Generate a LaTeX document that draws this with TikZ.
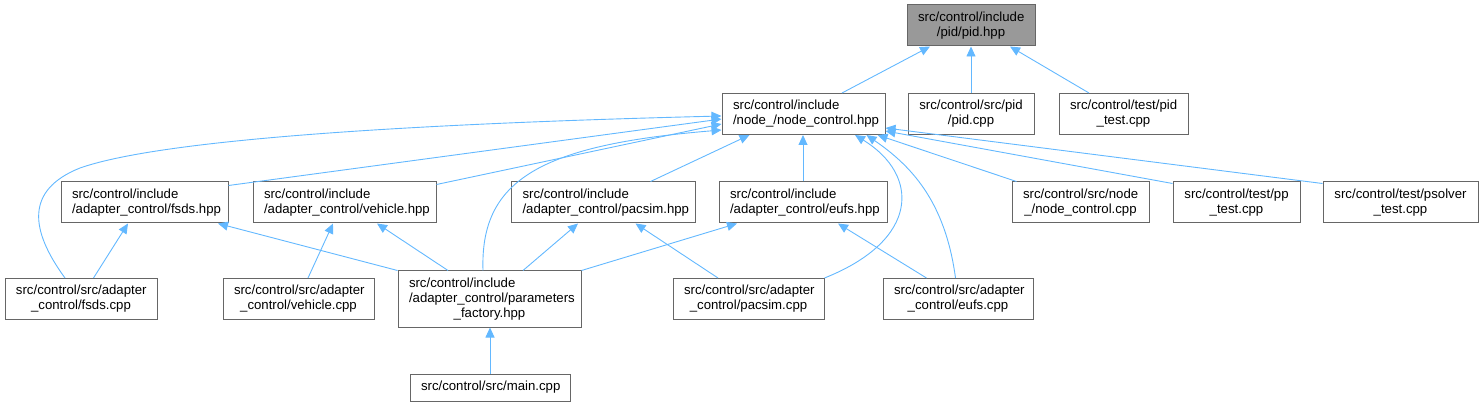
\documentclass[tikz,border=0pt]{standalone}
\usepackage{fontspec}
\setmainfont{Liberation Sans}
\usetikzlibrary{arrows.meta}
\definecolor{edgeblue}{HTML}{63B8FF}
\definecolor{boxgray}{HTML}{666666}
\definecolor{rootgray}{HTML}{999999}
\begin{document}
\begin{tikzpicture}[x=1pt, y=-1pt, >={Triangle[length=10pt, width=9pt]},
  file/.style={draw=boxgray, line width=1pt, fill=white, inner xsep=11pt, inner ysep=0pt,
    minimum height=41pt, font=\fontsize{13.2}{15}\selectfont, align=center},
  hdr/.style={file, align=left},
  dep/.style={->, edgeblue, line width=0.9pt}]
\useasboundingbox (0,0) rectangle (1484,406);
% files
\node[file, fill=rootgray, text width=106pt] (pid) at (971,25.5) {src/control/include\\/pid/pid.hpp};
\node[hdr, text width=141pt] (nc) at (803.5,114) {src/control/include\\/node\_/node\_control.hpp};
\node[file, text width=104pt] (pidcpp) at (971,114) {src/control/src/pid\\/pid.cpp};
\node[file, text width=107pt] (pidtest) at (1123.5,114) {src/control/test/pid\\\_test.cpp};
\node[hdr, text width=145pt] (fsdshpp) at (144.5,202.5) {src/control/include\\/adapter\_control/fsds.hpp};
\node[hdr, text width=161pt] (vehhpp) at (344.5,202.5) {src/control/include\\/adapter\_control/vehicle.hpp};
\node[hdr, text width=162pt] (pacsimhpp) at (603.5,202.5) {src/control/include\\/adapter\_control/pacsim.hpp};
\node[hdr, text width=146pt] (eufshpp) at (803,202.5) {src/control/include\\/adapter\_control/eufs.hpp};
\node[file, text width=115pt] (nccpp) at (1080.5,202.5) {src/control/src/node\\\_/node\_control.cpp};
\node[file, text width=105pt] (pptest) at (1236.5,202.5) {src/control/test/pp\\\_test.cpp};
\node[file, text width=133pt] (psolver) at (1400.5,202.5) {src/control/test/psolver\\\_test.cpp};
\node[file, text width=130pt] (fsdscpp) at (81,299) {src/control/src/adapter\\\_control/fsds.cpp};
\node[file, text width=129pt] (vehcpp) at (298.5,299) {src/control/src/adapter\\\_control/vehicle.cpp};
\node[hdr, text width=161pt, minimum height=56pt] (pf) at (489.5,299) {src/control/include\\/adapter\_control/parameters\\\makebox[161pt]{\_factory.hpp}};
\node[file, text width=129pt] (pacsimcpp) at (748.5,299) {src/control/src/adapter\\\_control/pacsim.cpp};
\node[file, text width=128pt] (eufscpp) at (958,299) {src/control/src/adapter\\\_control/eufs.cpp};
\node[file, text width=138pt, minimum height=27pt] (main) at (490,387.5) {src/control/src/main.cpp};
% includes
\draw[dep] ([xshift=38.5pt]nc.north) -- ([xshift=-41pt]pid.south);
\draw[dep] (pidcpp.north) -- (pid.south);
\draw[dep] ([xshift=-34.5pt]pidtest.north) -- ([xshift=39pt]pid.south);
\draw[dep] ([xshift=-16pt]fsdscpp.north) .. controls (30,230) and (25,190) .. (80,168)
  .. controls (160,140) and (400,124) .. ([yshift=-2pt]nc.west);
\draw[dep] ([yshift=-4pt]fsdshpp.north east) -- ([yshift=-5pt]nc.west);
\draw[dep] ([yshift=-3pt]vehhpp.north east) -- ([yshift=-10pt]nc.west);
\draw[dep] ([xshift=-6.5pt]pf.north) .. controls (480,180) and (540,145) .. ([yshift=-16pt]nc.west);
\draw[dep] ([xshift=47pt]pacsimhpp.north) -- ([xshift=-54pt]nc.south);
\draw[dep] (eufshpp.north) -- (eufshpp.north |- nc.south);
\draw[dep] (pacsimcpp.north east) .. controls (920,240) and (920,175) .. ([xshift=51.5pt]nc.south);
\draw[dep] ([xshift=-2.5pt]eufscpp.north) .. controls (945,200) and (910,165) .. ([xshift=63pt]nc.south);
\draw[dep] ([xshift=5pt]nccpp.north west) -- ([xshift=74pt]nc.south);
\draw[dep] ([yshift=-2pt]pptest.north west) -- ([yshift=-17pt]nc.east);
\draw[dep] ([yshift=-2pt]psolver.north west) -- ([yshift=-14pt]nc.east);
\draw[dep] ([xshift=12.5pt]fsdscpp.north) -- ([xshift=-16.5pt]fsdshpp.south);
\draw[dep] (pf.north west) -- ([xshift=73.5pt]fsdshpp.south);
\draw[dep] ([xshift=9.5pt]vehcpp.north) -- ([xshift=-11.5pt]vehhpp.south);
\draw[dep] ([xshift=-41.5pt]pf.north) -- ([xshift=32.5pt]vehhpp.south);
\draw[dep] ([xshift=33.5pt]pf.north) -- ([xshift=-25.5pt]pacsimhpp.south);
\draw[dep] (pf.north east) -- ([xshift=-66pt]eufshpp.south);
\draw[dep] ([xshift=-30.5pt]pacsimcpp.north) -- ([xshift=32pt]pacsimhpp.south);
\draw[dep] ([xshift=-31.5pt]eufscpp.north) -- ([xshift=35pt]eufshpp.south);
\draw[dep] (main.north) -- (main.north |- pf.south);
\end{tikzpicture}
\end{document}
